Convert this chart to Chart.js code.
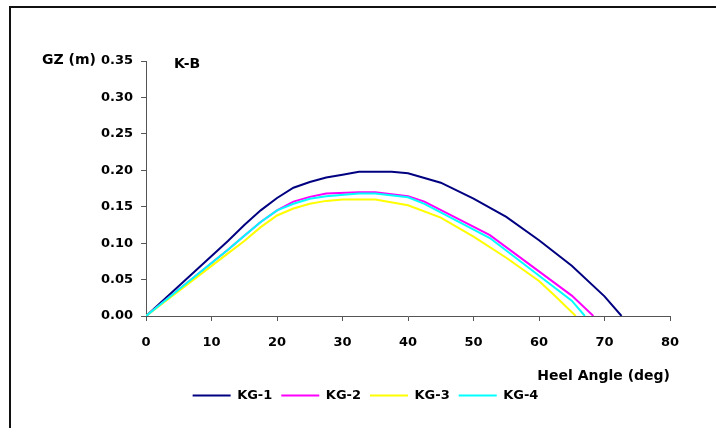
<!DOCTYPE html>
<html>
<head>
<meta charset="utf-8">
<script src="https://cdn.jsdelivr.net/npm/chart.js@4.4.1/dist/chart.umd.min.js"></script>
<style>
  body { margin: 0; background: #fff; }
  #wrap { position: relative; width: 716px; height: 428px; }
  #frame { position: absolute; left: 9px; top: 6px; right: 0; bottom: 0;
           border-top: 2px solid #111; border-left: 2px solid #111; pointer-events: none; }
  canvas { position: absolute; left: 0; top: 0; }
</style>
</head>
<body>
<div id="wrap">
  <canvas id="gz" width="716" height="428"></canvas>
  <div id="frame"></div>
</div>
<script>
// heel angle (deg) and GZ (m), one pair of arrays per KG case
var ang1 = [0, 12.5, 15, 17.5, 20, 22.5, 25, 27.5, 30, 32.5, 37.5, 40, 45, 50, 55, 60, 65, 70, 72.6];
var gz1  = [0, 0.103, 0.125, 0.145, 0.162, 0.176, 0.184, 0.190, 0.194, 0.198, 0.198, 0.196, 0.183, 0.161, 0.136, 0.104, 0.069, 0.027, 0];

var ang2 = [0, 12.5, 15, 17.5, 20, 22.5, 25, 27.5, 32.5, 35, 40, 42.5, 52.5, 65, 68.3];
var gz2  = [0, 0.091, 0.110, 0.129, 0.145, 0.157, 0.1635, 0.168, 0.170, 0.170, 0.1645, 0.157, 0.111, 0.028, 0];

var ang3 = [0, 12.5, 15, 17.5, 20, 22.5, 25, 27.5, 30, 35, 40, 45, 50, 55, 60, 62.5, 65.6];
var gz3  = [0, 0.086, 0.103, 0.122, 0.138, 0.1475, 0.154, 0.158, 0.160, 0.160, 0.152, 0.135, 0.109, 0.080, 0.048, 0.027, 0];

var ang4 = [0, 12.5, 15, 17.5, 20, 22.5, 25, 27.5, 32.5, 35, 40, 42.5, 52.5, 65, 67];
var gz4  = [0, 0.091, 0.110, 0.129, 0.145, 0.154, 0.161, 0.1645, 0.168, 0.168, 0.163, 0.154, 0.107, 0.021, 0];

var labels = ["KG-1", "KG-2", "KG-3", "KG-4"];
var colors = ["#000080", "#ff00ff", "#ffff00", "#00ffff"];

// legend sits a bit left of centre in the original
var legendShift = -16;

function pts(a, v){
    return a.map(function(x, i){ return {x: x, y: v[i]}; });
}

function ds(i, a, v, ord){
    return {
        label: labels[i],
        data: pts(a, v),
        borderColor: colors[i],
        backgroundColor: colors[i],
        borderWidth: 2,
        pointRadius: 0,
        tension: 0,
        fill: false,
        order: ord
    };
}

var font = "'DejaVu Sans', sans-serif";

// free text: y-axis caption and the case name inside the plot
var extraText = {
    id: 'extraText',
    afterLayout: function(chart){
        if (legendShift) {
            chart.legend.left += legendShift;
            chart.legend.right += legendShift;
        }
    },
    afterDraw: function(chart){
        var ctx = chart.ctx;
        ctx.save();
        ctx.fillStyle = "#000";
        ctx.font = "bold 14px " + font;
        ctx.textBaseline = "middle";
        ctx.textAlign = "left";
        ctx.fillText("GZ (m)", 42, 60);
        ctx.fillText("K-B", 174, 64);
        ctx.restore();
    }
};

new Chart(document.getElementById('gz').getContext('2d'), {
    type: 'line',
    data: {
        datasets: [
            ds(0, ang1, gz1, 3),
            ds(1, ang2, gz2, 2),
            ds(2, ang3, gz3, 1),
            ds(3, ang4, gz4, 0)
        ]
    },
    options: {
        responsive: false,
        animation: false,
        layout: { padding: { left: 93, right: 46, top: 61, bottom: 16 } },
        scales: {
            x: {
                type: 'linear',
                min: 0, max: 80,
                ticks: { stepSize: 10, color: "#000", padding: 15,
                         font: { family: font, weight: 'bold', size: 13, lineHeight: 1 } },
                grid: { drawOnChartArea: false, drawTicks: true, tickLength: 5, color: "#555" },
                border: { color: "#555", width: 1 },
                title: { display: true, text: "Heel Angle (deg)", align: 'end', color: "#000",
                         padding: { top: 5, bottom: -3 },
                         font: { family: font, weight: 'bold', size: 14, lineHeight: 1 } }
            },
            y: {
                min: 0, max: 0.35,
                ticks: { stepSize: 0.05, color: "#000", padding: 8,
                         callback: function(v){ return v.toFixed(2); },
                         font: { family: font, weight: 'bold', size: 13 } },
                grid: { drawOnChartArea: false, drawTicks: true, tickLength: 5, color: "#555" },
                border: { color: "#555", width: 1 }
            }
        },
        plugins: {
            legend: {
                position: 'bottom',
                labels: {
                    boxWidth: 38, boxHeight: 0, padding: 9, color: "#000",
                    font: { family: font, weight: 'bold', size: 13 },
                    sort: function(a, b){ return a.datasetIndex - b.datasetIndex; }
                }
            },
            tooltip: { enabled: false }
        }
    },
    plugins: [extraText]
});
</script>
</body>
</html>
